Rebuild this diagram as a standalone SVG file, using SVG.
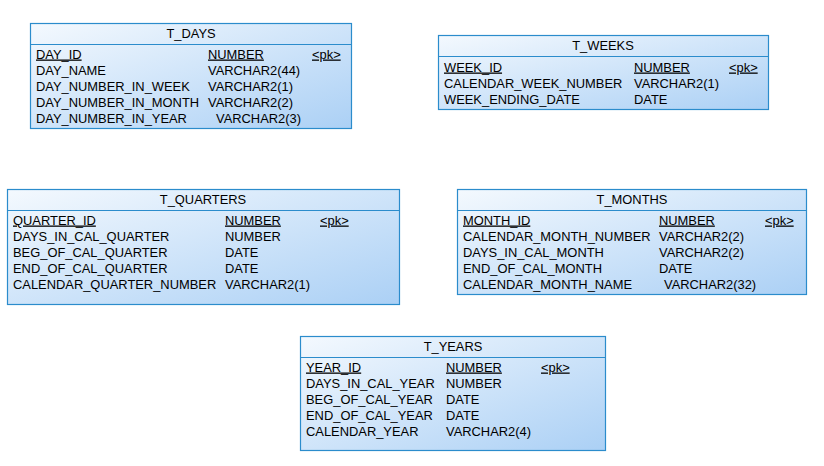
<svg xmlns="http://www.w3.org/2000/svg" width="824" height="466" viewBox="0 0 824 466">
<defs>
<linearGradient id="g" x1="0" y1="0" x2="1" y2="1">
<stop offset="0" stop-color="#f4f9fe"/>
<stop offset="1" stop-color="#abd0f5"/>
</linearGradient>
<style>
.box{fill:url(#g);stroke:#2b8ccc;stroke-width:1.2}
.div{stroke:#2b8ccc;stroke-width:1.2}
text{font-family:"Liberation Sans",Arial,sans-serif;font-size:12.9px;fill:#000}
.t{text-anchor:middle}
.u{text-decoration:underline}
</style>
</defs>
<rect width="824" height="466" fill="#fff"/>
<g id="connectors"></g>
<g id="T_DAYS">
<rect class="box" x="30.5" y="23.5" width="321" height="105"/>
<line class="div" x1="30.5" y1="44.5" x2="351.5" y2="44.5"/>
<text class="t" x="191" y="38">T_DAYS</text>
<text class="u" x="36" y="58.5">DAY_ID</text><text class="u" x="208" y="58.5">NUMBER</text><text class="u" x="312" y="58.5">&lt;pk&gt;</text>
<text x="36" y="74.5">DAY_NAME</text><text x="208" y="74.5">VARCHAR2(44)</text>
<text x="36" y="90.5">DAY_NUMBER_IN_WEEK</text><text x="208" y="90.5">VARCHAR2(1)</text>
<text x="36" y="106.5">DAY_NUMBER_IN_MONTH</text><text x="208" y="106.5">VARCHAR2(2)</text>
<text x="36" y="122.5">DAY_NUMBER_IN_YEAR</text><text x="216" y="122.5">VARCHAR2(3)</text>
</g>
<g id="T_WEEKS">
<rect class="box" x="438.5" y="35.5" width="330" height="74"/>
<line class="div" x1="438.5" y1="56.5" x2="768.5" y2="56.5"/>
<text class="t" x="603" y="50">T_WEEKS</text>
<text class="u" x="444" y="71.5">WEEK_ID</text><text class="u" x="634" y="71.5">NUMBER</text><text class="u" x="729" y="71.5">&lt;pk&gt;</text>
<text x="444" y="87.5">CALENDAR_WEEK_NUMBER</text><text x="634" y="87.5">VARCHAR2(1)</text>
<text x="444" y="103.5">WEEK_ENDING_DATE</text><text x="634" y="103.5">DATE</text>
</g>
<g id="T_QUARTERS">
<rect class="box" x="7.5" y="189.5" width="392" height="115"/>
<line class="div" x1="7.5" y1="210.5" x2="399.5" y2="210.5"/>
<text class="t" x="203" y="204">T_QUARTERS</text>
<text class="u" x="13" y="224.5">QUARTER_ID</text><text class="u" x="225" y="224.5">NUMBER</text><text class="u" x="320" y="224.5">&lt;pk&gt;</text>
<text x="13" y="240.5">DAYS_IN_CAL_QUARTER</text><text x="225" y="240.5">NUMBER</text>
<text x="13" y="256.5">BEG_OF_CAL_QUARTER</text><text x="225" y="256.5">DATE</text>
<text x="13" y="272.5">END_OF_CAL_QUARTER</text><text x="225" y="272.5">DATE</text>
<text x="13" y="288.5">CALENDAR_QUARTER_NUMBER</text><text x="225" y="288.5">VARCHAR2(1)</text>
</g>
<g id="T_MONTHS">
<rect class="box" x="457.5" y="189.5" width="349" height="105"/>
<line class="div" x1="457.5" y1="210.5" x2="806.5" y2="210.5"/>
<text class="t" x="632" y="204">T_MONTHS</text>
<text class="u" x="463" y="224.5">MONTH_ID</text><text class="u" x="659" y="224.5">NUMBER</text><text class="u" x="765" y="224.5">&lt;pk&gt;</text>
<text x="463" y="240.5">CALENDAR_MONTH_NUMBER</text><text x="659" y="240.5">VARCHAR2(2)</text>
<text x="463" y="256.5">DAYS_IN_CAL_MONTH</text><text x="659" y="256.5">VARCHAR2(2)</text>
<text x="463" y="272.5">END_OF_CAL_MONTH</text><text x="659" y="272.5">DATE</text>
<text x="463" y="288.5">CALENDAR_MONTH_NAME</text><text x="664" y="288.5">VARCHAR2(32)</text>
</g>
<g id="T_YEARS">
<rect class="box" x="300.5" y="336.5" width="305" height="114"/>
<line class="div" x1="300.5" y1="357.5" x2="605.5" y2="357.5"/>
<text class="t" x="453" y="351">T_YEARS</text>
<text class="u" x="306" y="371.5">YEAR_ID</text><text class="u" x="446" y="371.5">NUMBER</text><text class="u" x="541" y="371.5">&lt;pk&gt;</text>
<text x="306" y="387.5">DAYS_IN_CAL_YEAR</text><text x="446" y="387.5">NUMBER</text>
<text x="306" y="403.5">BEG_OF_CAL_YEAR</text><text x="446" y="403.5">DATE</text>
<text x="306" y="419.5">END_OF_CAL_YEAR</text><text x="446" y="419.5">DATE</text>
<text x="306" y="435.5">CALENDAR_YEAR</text><text x="446" y="435.5">VARCHAR2(4)</text>
</g>
</svg>
